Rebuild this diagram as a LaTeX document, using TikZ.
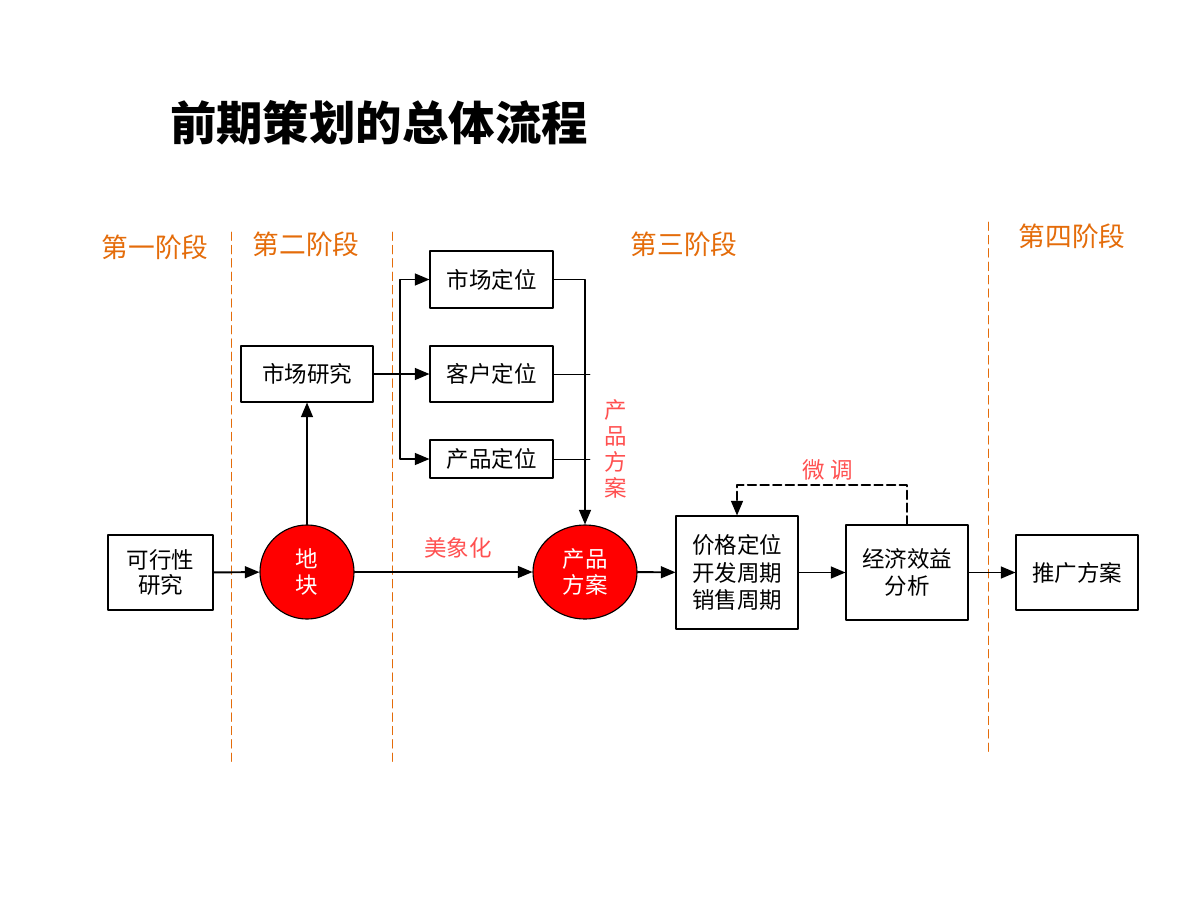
\documentclass[tikz,border=0pt]{standalone}
\usepackage{fontspec}
\newfontfamily\cjk{Noto Sans CJK SC}
\usetikzlibrary{arrows,shapes.geometric}
\definecolor{stageorange}{RGB}{228,108,10}
\definecolor{notered}{RGB}{255,80,80}

\begin{document}
\begin{tikzpicture}[line cap=round,line join=round,>=triangle 45,x=0.025cm,y=-0.025cm,
  font=\cjk\fontsize{16}{18}\selectfont,
  box/.style={draw,line width=0.8pt,align=center,inner sep=0pt},
  blob/.style={draw,line width=0.8pt,fill=red,text=white,align=center,inner sep=0pt},
  flow/.style={->,line width=1.4pt},
  stage/.style={text=stageorange,font=\cjk\fontsize{19}{22}\selectfont},
  divider/.style={stageorange,dashed,line width=0.7pt,dash pattern=on 6pt off 3.5pt}]
\useasboundingbox (0,0) rectangle (1200,900);
\draw (379,123) node {\fontsize{33}{36}\selectfont\bfseries 前期策划的总体流程};
\draw (155,247) node[stage] {第一阶段};
\draw (306,244) node[stage] {第二阶段};
\draw (684,244) node[stage] {第三阶段};
\draw (1072,236) node[stage] {第四阶段};
\draw[divider] (231,232) -- (231,762);
\draw[divider] (392,232) -- (392,762);
\draw[divider] (988,222) -- (988,752);
\node[box,minimum width=2.625cm,minimum height=1.875cm,font=\cjk\fontsize{16}{17.7}\selectfont] (kxx) at (160.5,572.5) {可行性\\研究};
\node[blob,circle,minimum size=2.35cm] (dk) at (307,572) {地\\块};
\node[box,minimum width=3.3cm,minimum height=1.4cm] (scyj) at (307,374) {市场研究};
\node[box,minimum width=3.075cm,minimum height=1.425cm] (scdw) at (491.5,279.5) {市场定位};
\node[box,minimum width=3.075cm,minimum height=1.4cm] (khdw) at (491.5,374) {客户定位};
\node[box,minimum width=3.075cm,minimum height=0.95cm] (cpdw) at (491.5,459) {产品定位};
\node[blob,ellipse,minimum width=2.6cm,minimum height=2.35cm] (cpfa) at (585,572) {产品\\方案};
\node[box,minimum width=3.05cm,minimum height=2.825cm,font=\cjk\fontsize{16}{19.5}\selectfont] (jgdw) at (737,572.5) {价格定位\\开发周期\\销售周期};
\node[box,minimum width=3.05cm,minimum height=2.375cm,font=\cjk\fontsize{16}{19.8}\selectfont] (jjxy) at (907,572.5) {经济效益\\分析};
\node[box,minimum width=3.05cm,minimum height=1.875cm] (tgfa) at (1077,572.5) {推广方案};
\coordinate (fork) at (400,374);
\coordinate (khend) at (590,374);
\coordinate (cpend) at (590,459);
\draw[flow] (kxx) -- (dk);
\draw[flow] (dk) -- (scyj);
\draw[flow] (dk) -- (cpfa);
\draw[flow] (scyj) -- (khdw);
\draw[flow] (fork) |- (scdw);
\draw[flow] (fork) |- (cpdw);
\draw[flow] (scdw.east) -| (cpfa.north);
\draw[line width=0.6pt] (khdw.east) -- (khend);
\draw[line width=0.6pt] (cpdw.east) -- (cpend);
\draw[flow] (cpfa) -- (jgdw);
\draw[flow] (jgdw) -- (jjxy);
\draw[flow] (jjxy) -- (tgfa);
\draw[flow,dashed,dash pattern=on 6pt off 3pt] (jjxy.north) -- ++(0,-39) -| (jgdw.north);
\draw[color=notered] (458,548) node {美象化};
\draw[color=notered] (828,470) node {微 调};
\draw[color=notered] (616,449) node[align=center,font=\cjk\fontsize{16}{18.5}\selectfont] {产\\品\\方\\案};
\end{tikzpicture}
\end{document}
